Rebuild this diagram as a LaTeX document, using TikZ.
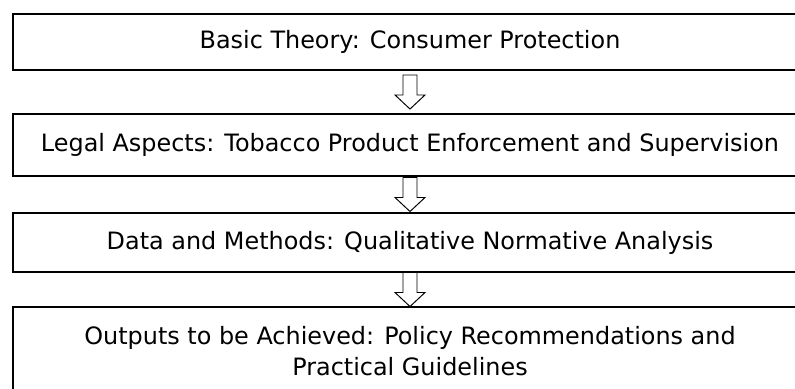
\documentclass[tikz,border=0pt]{standalone}
\usepackage{fontspec}
\setmainfont{DejaVu Sans}
\usetikzlibrary{calc}

\tikzset{
  stage/.style={draw, line width=1.1pt, minimum width=15.88cm, inner sep=0pt,
    align=center, font=\fontsize{13.6}{18.1}\selectfont},
  hollow/.style={draw, line width=0.55pt, fill=white},
}

\begin{document}
\begin{tikzpicture}
\path[use as bounding box, clip] (0,0) rectangle (15.9,-7.76);
% the four stages, top to bottom
\node[stage, minimum height=1.12cm] (basic) at (8.2,-0.84) {Basic Theory: Consumer Protection};
\node[stage, minimum height=1.24cm] (legal) at (8.2,-2.90) {Legal Aspects: Tobacco Product Enforcement and Supervision};
\node[stage, minimum height=1.18cm] (data) at (8.2,-4.85) {Data and Methods: Qualitative Normative Analysis};
\node[stage, minimum height=1.76cm] (out) at (8.2,-7.02) {Outputs to be Achieved: Policy Recommendations and\\Practical Guidelines};
% hollow block arrows between the stages
\foreach \a/\b in {basic/legal,legal/data,data/out}
\draw[hollow] ($(\a.south)!0.5!(\b.north)$) ++(-0.14,0.34) -- ++(0,-0.40) -- ++(-0.16,0)
  -- ++(0.30,-0.28) -- ++(0.30,0.28) -- ++(-0.16,0) -- ++(0,0.40) -- cycle;
\end{tikzpicture}
\end{document}
